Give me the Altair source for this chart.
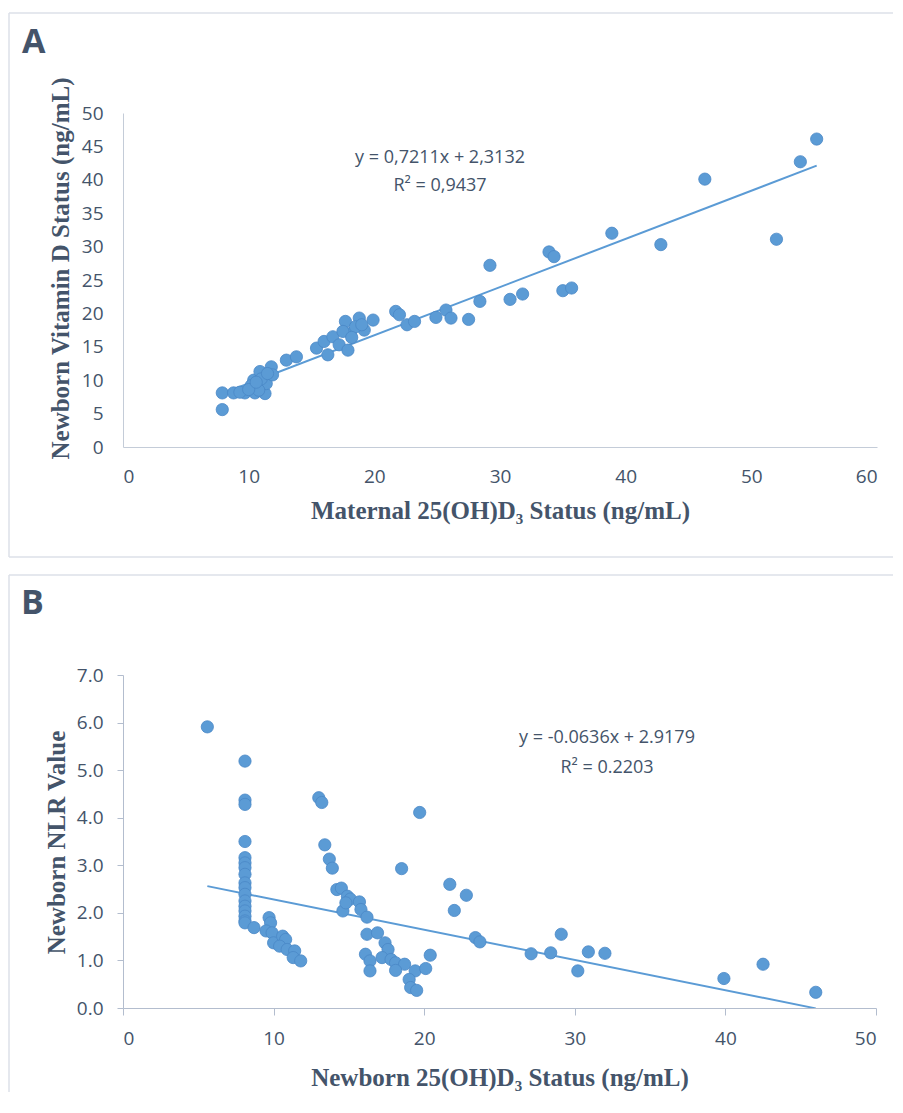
import altair as alt
import pandas as pd

# ---------------- Panel A data ----------------
a_maternal = [7.9, 7.9, 8.8, 9.7, 10.5, 11.3, 10.4, 10.9, 11.8, 11.4, 11.9, 10.2, 10.8, 9.3,
              10.0, 11.0, 11.5, 10.6,
              13.0, 13.8, 15.4, 16.3, 16.0, 16.7, 17.2, 17.9, 17.7, 18.8, 19.9, 18.1, 19.2,
              18.5, 17.5, 18.2, 19.0,
              21.7, 22.0, 22.6, 23.2, 24.9, 25.7, 26.1, 27.5, 28.4, 29.2, 30.8, 31.8, 33.9,
              34.3, 35.0, 35.7, 38.9, 42.8, 46.3, 52.0, 53.9, 55.2]
a_newborn = [5.6, 8.1, 8.1, 8.1, 8.1, 8.0, 10.0, 11.3, 12.0, 9.5, 10.8, 9.2, 8.5, 8.2,
             8.6, 10.2, 11.0, 9.7,
             13.0, 13.5, 14.8, 13.8, 15.8, 16.5, 15.3, 14.5, 18.8, 19.3, 19.0, 17.0, 17.5,
             18.0, 17.3, 16.4, 18.3,
             20.3, 19.8, 18.3, 18.8, 19.4, 20.5, 19.3, 19.1, 21.8, 27.2, 22.1, 22.9, 29.2,
             28.5, 23.4, 23.8, 32.0, 30.3, 40.1, 31.1, 42.7, 46.1]
a_slope, a_intercept = 0.7211, 2.3132
a_eq = ["y = 0,7211x + 2,3132", "R\u00b2 = 0,9437"]
a_xticks = [0, 10, 20, 30, 40, 50, 60]
a_yticks = [0, 5, 10, 15, 20, 25, 30, 35, 40, 45, 50]

# ---------------- Panel B data ----------------
b_vitd = [5.6,
          8.1, 8.1, 8.1, 8.1, 8.1, 8.1, 8.1, 8.1, 8.1, 8.1, 8.1, 8.1, 8.1, 8.1, 8.1, 8.1, 8.1,
          8.7, 9.7, 9.8, 9.5, 9.9, 10.0, 10.6, 10.8, 10.4, 10.9, 11.4, 11.3, 11.8,
          13.0, 13.2, 13.4, 13.7, 13.9, 14.2, 14.5, 14.9, 15.1, 14.6, 14.8, 15.7, 15.8,
          16.2, 16.2, 16.9, 17.4, 17.6, 16.1, 16.4, 16.4, 17.2, 17.8, 18.1, 18.7, 18.1,
          19.4, 19.0, 19.1, 19.5, 20.1, 20.4, 18.5, 19.7, 21.7, 22.0, 22.8, 23.4, 23.7,
          27.1, 28.4, 29.1, 30.2, 30.9, 32.0, 39.9, 42.5, 46.0]
b_nlr = [5.91,
         5.19, 4.37, 4.28, 3.50, 3.16, 3.05, 2.95, 2.81, 2.63, 2.53, 2.39, 2.25, 2.14, 2.04,
         1.93, 1.83, 1.79,
         1.69, 1.90, 1.79, 1.62, 1.58, 1.37, 1.51, 1.44, 1.30, 1.23, 1.20, 1.06, 0.99,
         4.42, 4.32, 3.43, 3.13, 2.94, 2.49, 2.52, 2.35, 2.29, 2.04, 2.21, 2.23, 2.07,
         1.91, 1.55, 1.58, 1.37, 1.23, 1.13, 0.99, 0.78, 1.06, 1.02, 0.95, 0.92, 0.79,
         0.78, 0.60, 0.43, 0.37, 0.83, 1.11, 2.93, 4.11, 2.60, 2.05, 2.37, 1.48, 1.39,
         1.14, 1.16, 1.55, 0.78, 1.18, 1.15, 0.62, 0.92, 0.33]
b_slope, b_intercept = -0.0636, 2.9179
b_eq = ["y = -0.0636x + 2.9179", "R\u00b2 = 0.2203"]
b_xticks = [0, 10, 20, 30, 40, 50]
b_yticks = [0, 1, 2, 3, 4, 5, 6, 7]

TXT = "#44546A"
PT = "#5B9BD5"
FRAME = "#DCE1E8"
ONE = pd.DataFrame({"k": [0]})
LBL = 19
TTL = 25


def frame_layers(left, top, right, bottom, closed):
    base = alt.Chart(ONE)
    st = dict(color=FRAME, strokeWidth=1.5)
    layers = [
        base.mark_rule(**st).encode(x=alt.value(left), x2=alt.value(right), y=alt.value(top)),
        base.mark_rule(**st).encode(x=alt.value(left), y=alt.value(top), y2=alt.value(bottom)),
    ]
    if closed:
        layers.append(base.mark_rule(**st).encode(x=alt.value(left), x2=alt.value(right),
                                                  y=alt.value(bottom)))
    return layers


def letter(ch, x, y):
    return alt.Chart(ONE).mark_text(text=ch, font="Open Sans", fontWeight="bold", fontSize=34,
                                    color=TXT, align="left", baseline="alphabetic").encode(
        x=alt.value(x), y=alt.value(y))


def eq_text(lines, x, y0, dy):
    return [alt.Chart(ONE).mark_text(text=t, font="Open Sans", fontSize=18, color=TXT,
                                     align="center", baseline="middle").encode(
        x=alt.value(x), y=alt.value(y0 + i * dy)) for i, t in enumerate(lines)]


def trend(xs, slope, intercept):
    lo, hi = min(xs), max(xs)
    return pd.DataFrame({"x": [lo, hi], "y": [slope * lo + intercept, slope * hi + intercept]})


# ---------------- Panel A ----------------
dfa = pd.DataFrame({"x": a_maternal, "y": a_newborn})
WA, HA = 754, 334
xa = alt.X("x:Q", scale=alt.Scale(domain=[0, 60], nice=False),
           axis=alt.Axis(values=a_xticks, ticks=False, tickSize=0, grid=False, labelOverlap=False,
                         domainColor="#C4CCD8", labelFont="Open Sans", labelFontSize=LBL,
                         labelColor=TXT, labelPadding=20,
                         title="Maternal 25(OH)D\u2083 Status (ng/mL)",
                         titleFont="Liberation Serif", titleFontSize=TTL, titleFontWeight="bold",
                         titleColor=TXT, titleY=63, titleBaseline="middle"))
ya = alt.Y("y:Q", scale=alt.Scale(domain=[0, 50], nice=False),
           axis=alt.Axis(values=a_yticks, ticks=False, tickSize=0, grid=False, labelOverlap=False,
                         domainColor="#C4CCD8", labelFont="Open Sans", labelFontSize=LBL,
                         labelColor=TXT, labelPadding=20,
                         title="Newborn Vitamin D Status (ng/mL)",
                         titleFont="Liberation Serif", titleFontSize=TTL, titleFontWeight="bold",
                         titleColor=TXT, titleX=-63, titleY=155, titleBaseline="middle"))
pts_a = alt.Chart(dfa).mark_point(filled=True, shape="circle", size=150, fill=PT, opacity=1,
                                  stroke="#4A88C7", strokeWidth=0.8).encode(x=xa, y=ya)
line_a = alt.Chart(trend(a_maternal, a_slope, a_intercept)).mark_line(
    color=PT, strokeWidth=2).encode(x=xa, y=ya)
chart_a = alt.layer(
    *frame_layers(-114, -100, 770, 444, True),
    letter("A", -101, -60),
    line_a, pts_a,
    *eq_text(a_eq, 317, 45, 28),
).properties(width=WA, height=HA)

# ---------------- Panel B ----------------
dfb = pd.DataFrame({"x": b_vitd, "y": b_nlr})
WB, HB = 753, 333
xb = alt.X("x:Q", scale=alt.Scale(domain=[0, 50], nice=False),
           axis=alt.Axis(values=b_xticks, ticks=True, tickSize=7, tickColor="#B3BDCE",
                         grid=False, labelOverlap=False, domainColor="#B3BDCE",
                         labelFont="Open Sans",
                         labelFontSize=LBL, labelColor=TXT, labelPadding=14,
                         title="Newborn 25(OH)D\u2083 Status (ng/mL)",
                         titleFont="Liberation Serif", titleFontSize=TTL, titleFontWeight="bold",
                         titleColor=TXT, titleY=69, titleBaseline="middle"))
yb = alt.Y("y:Q", scale=alt.Scale(domain=[0, 7], nice=False),
           axis=alt.Axis(values=b_yticks, format=".1f", ticks=True, tickSize=6,
                         tickColor="#B3BDCE", grid=False, labelOverlap=False,
                         domainColor="#B3BDCE",
                         labelFont="Open Sans", labelFontSize=LBL, labelColor=TXT,
                         labelPadding=14, title="Newborn NLR Value",
                         titleFont="Liberation Serif", titleFontSize=TTL, titleFontWeight="bold",
                         titleColor=TXT, titleX=-67, titleY=167, titleBaseline="middle"))
pts_b = alt.Chart(dfb).mark_point(filled=True, shape="circle", size=150, fill=PT, opacity=1,
                                  stroke="#4A88C7", strokeWidth=0.8).encode(x=xb, y=yb)
line_b = alt.Chart(trend(b_vitd, b_slope, b_intercept)).mark_line(
    color=PT, strokeWidth=2, clip=True).encode(x=xb, y=yb)
chart_b = alt.layer(
    *frame_layers(-114, -100, 770, 417, False),
    letter("B", -102, -61),
    line_b, pts_b,
    *eq_text(b_eq, 484, 63, 30),
).properties(width=WB, height=HB)

chart = alt.vconcat(chart_a, chart_b, spacing=16, bounds="full").properties(
    padding={"left": 0, "top": 4, "right": 0, "bottom": 0}
).configure_view(stroke=None).configure_axis(labelOverlap=False)

chart.save("out.html", embed_options={"renderer": "svg", "actions": False})
